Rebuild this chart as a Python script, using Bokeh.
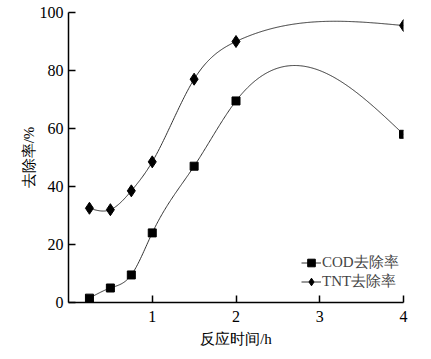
import numpy as np
from bokeh.plotting import figure
from bokeh.models import Legend, LegendItem, FixedTicker, Range1d
from bokeh.embed import file_html
from bokeh.resources import INLINE

# data
time_h = [0.25, 0.5, 0.75, 1.0, 1.5, 2.0, 4.0]
cod_removal = [1.5, 5.0, 9.5, 24.0, 47.0, 69.5, 58.0]
tnt_removal = [32.5, 32.0, 38.5, 48.5, 77.0, 90.0, 95.5]
x_ticks = [1, 2, 3, 4]
y_ticks = [0, 20, 40, 60, 80, 100]
series_names = ["COD去除率", "TNT去除率"]


def natural_spline(x, y, n=400):
    x = np.asarray(x, float)
    y = np.asarray(y, float)
    m = len(x)
    h = np.diff(x)
    A = np.zeros((m, m))
    r = np.zeros(m)
    A[0, 0] = 1.0
    A[-1, -1] = 1.0
    for i in range(1, m - 1):
        A[i, i - 1] = h[i - 1]
        A[i, i] = 2 * (h[i - 1] + h[i])
        A[i, i + 1] = h[i]
        r[i] = 3 * ((y[i + 1] - y[i]) / h[i] - (y[i] - y[i - 1]) / h[i - 1])
    c = np.linalg.solve(A, r)
    b = (y[1:] - y[:-1]) / h - h * (2 * c[:-1] + c[1:]) / 3
    d = (c[1:] - c[:-1]) / (3 * h)
    xs = np.linspace(x[0], x[-1], n)
    idx = np.clip(np.searchsorted(x, xs, side="right") - 1, 0, m - 2)
    t = xs - x[idx]
    ys = y[idx] + b[idx] * t + c[idx] * t ** 2 + d[idx] * t ** 3
    return xs, ys


FONT = "Liberation Serif"

p = figure(width=423, height=351, output_backend="svg", toolbar_location=None,
           x_range=Range1d(0, 4), y_range=Range1d(0, 100),
           min_border_left=68, min_border_right=20, min_border_top=12, min_border_bottom=49)
p.outline_line_color = None
p.grid.visible = False
p.background_fill_color = "white"

for ax in (p.xaxis[0], p.yaxis[0]):
    ax.major_tick_in = 7
    ax.major_tick_out = 0
    ax.minor_tick_line_color = None
    ax.axis_line_width = 1.5
    ax.major_tick_line_width = 1.5
    ax.axis_line_color = "black"
    ax.major_tick_line_color = "black"
    ax.major_label_text_font = FONT
    ax.major_label_text_font_size = "16px"
    ax.major_label_text_color = "black"
    ax.axis_label_text_font = FONT
    ax.axis_label_text_font_size = "15px"
    ax.axis_label_text_font_style = "normal"
    ax.axis_label_text_color = "black"

p.xaxis.ticker = FixedTicker(ticks=x_ticks)
p.yaxis.ticker = FixedTicker(ticks=y_ticks)
p.xaxis.axis_label = "反应时间/h"
p.yaxis.axis_label = "去除率/%"
p.xaxis.major_label_standoff = 8
p.yaxis.major_label_standoff = 5
p.xaxis.axis_label_standoff = 6
p.yaxis.axis_label_standoff = 0

xs1, ys1 = natural_spline(time_h, cod_removal)
xs2, ys2 = natural_spline(time_h, tnt_removal)

l1 = p.line(xs1, ys1, line_color="#333333", line_width=1)
s1 = p.scatter(time_h, cod_removal, marker="square", size=8, fill_color="black", line_color="black")
l2 = p.line(xs2, ys2, line_color="#333333", line_width=1)
s2 = p.scatter(time_h, tnt_removal, marker="diamond", size=12, fill_color="black", line_color="black")

legend = Legend(items=[LegendItem(label=series_names[0], renderers=[l1, s1]),
                       LegendItem(label=series_names[1], renderers=[l2, s2])],
                location=(233, 11), border_line_color=None, background_fill_alpha=0,
                label_text_font=FONT, label_text_font_size="15px",
                glyph_width=20, glyph_height=19, label_height=19, label_standoff=1,
                spacing=0, padding=0, margin=0)
p.add_layout(legend, "center")

open("out.html", "w").write(file_html(p, INLINE))
